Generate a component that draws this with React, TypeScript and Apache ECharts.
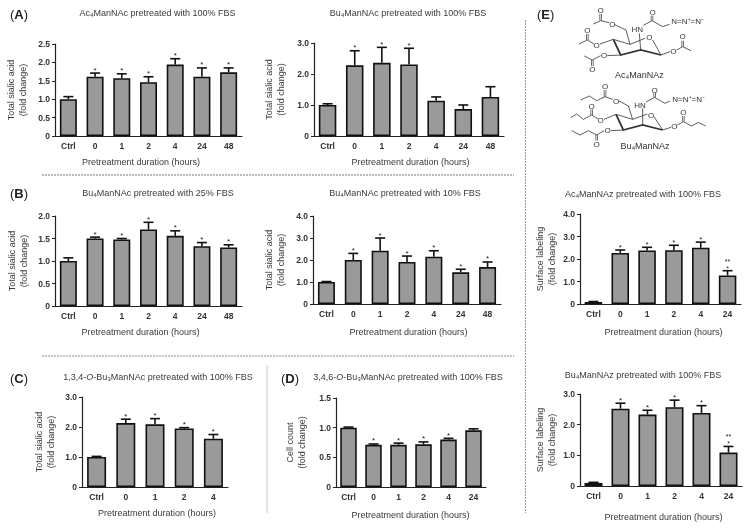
import React, { useEffect, useRef } from "react";
import * as echarts from "echarts";

const FONT = '"Liberation Sans", Arial, sans-serif';
const TEXT = "#3a3a3a";

const catsLong = ["Ctrl", "0", "1", "2", "4", "24", "48"];
const catsFour = ["Ctrl", "0", "1", "2", "4"];
const catsFive = ["Ctrl", "0", "1", "2", "4", "24"];

const valuesA1 = [1.0, 1.61, 1.57, 1.46, 1.94, 1.61, 1.73];
const topsA1 = [1.07, 1.71, 1.69, 1.61, 2.1, 1.85, 1.85];
const starsA1 = ["", "*", "*", "*", "*", "*", "*"];

const valuesA2 = [1.0, 2.28, 2.36, 2.31, 1.14, 0.87, 1.26];
const topsA2 = [1.04, 2.75, 2.86, 2.83, 1.26, 1.0, 1.59];
const starsA2 = ["", "*", "*", "*", "", "", ""];

const valuesB1 = [1.0, 1.5, 1.48, 1.7, 1.56, 1.33, 1.3];
const topsB1 = [1.07, 1.53, 1.5, 1.86, 1.67, 1.41, 1.36];
const starsB1 = ["", "*", "*", "*", "*", "*", "*"];

const valuesB2 = [1.0, 2.0, 2.42, 1.91, 2.15, 1.44, 1.68];
const topsB2 = [1.02, 2.3, 3.0, 2.18, 2.42, 1.58, 1.91];
const starsB2 = ["", "*", "*", "*", "*", "*", "*"];

const valuesC = [1.0, 2.13, 2.09, 1.95, 1.61];
const topsC = [1.02, 2.26, 2.28, 1.98, 1.75];
const starsC = ["", "*", "*", "*", "*"];

const valuesD = [1.0, 0.71, 0.71, 0.72, 0.8, 0.955];
const topsD = [1.01, 0.725, 0.74, 0.76, 0.82, 0.98];
const starsD = ["", "*", "*", "*", "*", ""];

const valuesE1 = [0.09, 2.27, 2.38, 2.39, 2.5, 1.27];
const topsE1 = [0.11, 2.4, 2.52, 2.61, 2.75, 1.48];
const starsE1 = ["", "*", "*", "*", "*", "**\n*"];

const valuesE2 = [0.1, 2.52, 2.33, 2.57, 2.38, 1.09];
const topsE2 = [0.12, 2.7, 2.47, 2.8, 2.62, 1.29];
const starsE2 = ["", "*", "*", "*", "*", "**\n*"];

const xTitle = "Pretreatment duration (hours)";
const yTotal = "Total sialic acid\n(fold change)";
const yCount = "Cell count\n(fold change)";
const ySurface = "Surface labeling\n(fold change)";

const panels = [
  { title: "Ac₄ManNAc pretreated with 100% FBS", tx: 157.5, ty: 14, cats: catsLong, vals: valuesA1, tops: topsA1, stars: starsA1, y: yTotal, max: 2.5, step: 0.5, l: 55, r: 242, t: 44, b: 136, bw: 17, nx: 141, ny: 162, nameGap: 26 },
  { title: "Bu₄ManNAc pretreated with 100% FBS", tx: 408, ty: 14, cats: catsLong, vals: valuesA2, tops: topsA2, stars: starsA2, y: yTotal, max: 3, step: 1, l: 314, r: 504, t: 43, b: 136, bw: 17.5, nx: 410.5, ny: 162, nameGap: 27 },
  { title: "Bu₄ManNAc pretreated with 25% FBS", tx: 158, ty: 194, cats: catsLong, vals: valuesB1, tops: topsB1, stars: starsB1, y: yTotal, max: 2, step: 0.5, l: 55, r: 242, t: 216, b: 306, bw: 17, nx: 140.5, ny: 332, nameGap: 25 },
  { title: "Bu₄ManNAc pretreated with 10% FBS", tx: 405, ty: 194, cats: catsLong, vals: valuesB2, tops: topsB2, stars: starsB2, y: yTotal, max: 4, step: 1, l: 313, r: 501, t: 216, b: 304, bw: 17, nx: 408.5, ny: 332, nameGap: 26 },
  { title: "1,3,4-{i|O}-Bu₃ManNAc pretreated with 100% FBS", tx: 158, ty: 378, cats: catsFour, vals: valuesC, tops: topsC, stars: starsC, y: yTotal, max: 3, step: 1, l: 82, r: 228, t: 397, b: 487, bw: 19, nx: 157, ny: 513, nameGap: 25 },
  { title: "3,4,6-{i|O}-Bu₃ManNAc pretreated with 100% FBS", tx: 408, ty: 378, cats: catsFive, vals: valuesD, tops: topsD, stars: starsD, y: yCount, max: 1.5, step: 0.5, l: 336, r: 486, t: 398, b: 487, bw: 16.5, nx: 410.5, ny: 515, nameGap: 28 },
  { title: "Ac₄ManNAz pretreated with 100% FBS", tx: 643, ty: 195, cats: catsFive, vals: valuesE1, tops: topsE1, stars: starsE1, y: ySurface, max: 4, step: 1, l: 580, r: 741, t: 214, b: 304, bw: 17.5, nx: 663.5, ny: 332, nameGap: 22 },
  { title: "Bu₄ManNAz pretreated with 100% FBS", tx: 643, ty: 376, cats: catsFive, vals: valuesE2, tops: topsE2, stars: starsE2, y: ySurface, max: 3, step: 1, l: 580, r: 742, t: 394, b: 486, bw: 18, nx: 663.5, ny: 517, nameGap: 22 },
];

const panelLetters = [
  { t: "A", x: 10, y: 14 },
  { t: "B", x: 10, y: 193 },
  { t: "C", x: 10, y: 378 },
  { t: "D", x: 281, y: 378 },
  { t: "E", x: 537, y: 14 },
];

// Chemical drawings, in coordinates of the 530,0 corner at 3x
const bondsAc = [
  [[172, 120], [192, 132]], [[210, 132], [250, 118], [300, 133], [345, 115]], [[368, 120], [393, 165]],
  [[300, 133], [288, 90], [254, 74]], [[238, 68], [212, 62], [190, 72]], [[332, 150], [328, 100]],
  [[340, 76], [366, 62], [398, 80], [418, 73]], [[172, 120], [147, 132]],
  [[232, 167], [272, 165]], [[212, 167], [187, 180], [163, 168]], [[393, 165], [420, 155]], [[440, 150], [458, 140], [483, 152]],
];
const boldAc = [[[250, 118], [272, 165], [332, 150], [393, 165]]];
const dblAc = [[212, 62, 212, 42], [366, 62, 366, 47], [172, 120, 172, 102], [187, 180, 187, 198], [458, 140, 458, 122]];
const atomsAc = [
  ["O", 212, 30], ["O", 247, 72], ["O", 368, 38], ["O", 172, 92], ["O", 200, 135], ["O", 222, 167], ["O", 187, 208],
  ["O", 358, 112], ["O", 430, 153], ["O", 458, 110], ["HN", 322, 87], ["N=N⁺=N⁻", 473, 65], ["Ac₄ManNAz", 328, 224],
];
const bondsBu = [
  [[185, 345], [205, 357]], [[222, 358], [258, 343], [308, 358], [352, 342]], [[372, 350], [398, 390]],
  [[308, 358], [295, 318], [266, 302]], [[248, 298], [225, 290], [200, 302], [178, 288], [152, 300]], [[338, 375], [338, 325]],
  [[348, 306], [374, 292], [405, 310], [420, 303]], [[185, 345], [160, 358], [140, 342], [122, 353]],
  [[243, 392], [280, 390]], [[222, 392], [200, 405], [175, 392], [150, 405], [125, 392]], [[398, 390], [423, 382]],
  [[442, 375], [460, 365], [485, 378], [505, 367], [527, 378]],
];
const boldBu = [[[258, 343], [280, 390], [338, 375], [398, 390]]];
const dblBu = [[225, 290, 225, 270], [374, 292, 374, 278], [185, 345, 185, 328], [200, 405, 200, 422], [460, 365, 460, 348]];
const atomsBu = [
  ["O", 225, 258], ["O", 258, 303], ["O", 374, 270], ["O", 185, 320], ["O", 212, 360], ["O", 233, 392], ["O", 200, 432],
  ["O", 363, 345], ["O", 433, 378], ["O", 460, 338], ["HN", 330, 315], ["N=N⁺=N⁻", 476, 298], ["Bu₄ManNAz", 345, 438],
];

const px = (v: number) => 530 + v / 3;
const py = (v: number) => v / 3;

function chemistry(): any[] {
  const out: any[] = [];
  const line = (pts: number[][], w: number) =>
    out.push({ type: "polyline", silent: true, shape: { points: pts.map((p) => [px(p[0]), py(p[1])]) }, style: { stroke: "#333", lineWidth: w, fill: "none" } });
  [...bondsAc, ...bondsBu].forEach((b) => line(b, 0.8));
  [...boldAc, ...boldBu].forEach((b) => line(b, 1.8));
  [...dblAc, ...dblBu].forEach(([a, b, c, d]) => {
    line([[a - 2.5, b], [c - 2.5, d]], 0.7);
    line([[a + 2.5, b], [c + 2.5, d]], 0.7);
  });
  [...atomsAc, ...atomsBu].forEach(([t, x, y]: any) => {
    const big = t.length > 6 && t.indexOf("Man") >= 0;
    out.push({
      type: "text", silent: true,
      style: { text: t, x: px(x), y: py(y), align: "center", verticalAlign: "middle", textAlign: "center", textVerticalAlign: "middle", fill: "#333", font: `${big ? 9 : 8}px ${FONT}` },
    });
  });
  return out;
}

const dashed = [
  [42, 175, 514, 175, "#777", [2, 1]],
  [42, 356, 514, 356, "#888", [2, 1]],
  [525.5, 20, 525.5, 513, "#999", [2, 1]],
  [267, 365, 267, 513, "#ccc", []],
];

function buildOption() {
  const grid: any[] = [], xAxis: any[] = [], yAxis: any[] = [], series: any[] = [], title: any[] = [];
  panels.forEach((p, i) => {
    grid.push({ left: p.l, top: p.t, width: p.r - p.l, height: p.b - p.t });
    title.push({
      text: p.title, left: p.tx, top: p.ty - 5.5, textAlign: "center", padding: 0,
      textStyle: { fontFamily: FONT, fontSize: 9, fontWeight: "normal", color: TEXT, rich: { i: { fontFamily: FONT, fontSize: 9, fontStyle: "italic", color: TEXT } } },
    });
    xAxis.push({
      type: "category", gridIndex: i, data: p.cats,
      axisLine: { lineStyle: { color: "#222", width: 1.2 } },
      axisTick: { alignWithLabel: true, length: 3, lineStyle: { color: "#222", width: 1 } },
      axisLabel: { fontFamily: FONT, fontSize: 8.5, fontWeight: "bold", color: "#333", margin: 5, interval: 0 },
      splitLine: { show: false },
    });
    yAxis.push({
      type: "value", gridIndex: i, min: 0, max: p.max, interval: p.step,
      name: p.y, nameLocation: "middle", nameGap: p.nameGap, nameRotate: 90,
      nameTextStyle: { fontFamily: FONT, fontSize: 9, color: TEXT, lineHeight: 12 },
      axisLine: { show: true, lineStyle: { color: "#222", width: 1.2 } },
      axisTick: { show: true, length: 3, lineStyle: { color: "#222", width: 1 } },
      axisLabel: { fontFamily: FONT, fontSize: 8.5, fontWeight: "bold", color: "#333", margin: 5, formatter: (v: number) => (v === 0 ? "0" : v.toFixed(1)) },
      splitLine: { show: false },
    });
    series.push({
      type: "bar", xAxisIndex: i, yAxisIndex: i, data: p.vals, barWidth: p.bw, silent: true,
      itemStyle: { color: "#9a9a9a", borderColor: "#111", borderWidth: 1.6 },
    });
    series.push({
      type: "custom", xAxisIndex: i, yAxisIndex: i, silent: true, clip: false, z: 3,
      data: p.tops.map((t, k) => [k, p.vals[k], t]),
      encode: { x: 0, y: 2 },
      renderItem: (params: any, api: any) => {
        const a = api.coord([api.value(0), api.value(1)]);
        const b = api.coord([api.value(0), api.value(2)]);
        const star = p.stars[params.dataIndex];
        const ln = { stroke: "#111", lineWidth: 1.6, fill: "none" };
        const kids: any[] = [
          { type: "line", shape: { x1: a[0], y1: a[1], x2: b[0], y2: b[1] }, style: ln },
          { type: "line", shape: { x1: b[0] - 5, y1: b[1], x2: b[0] + 5, y2: b[1] }, style: ln },
        ];
        if (star) {
          const two = star.length > 1;
          kids.push({
            type: "text",
            style: { text: star, x: b[0], y: b[1] + 1, align: "center", verticalAlign: "bottom", textAlign: "center", textVerticalAlign: "bottom", fill: "#222", font: `${two ? 7 : 8}px ${FONT}`, lineHeight: two ? 7 : 8 },
          });
        }
        return { type: "group", children: kids };
      },
    });
  });

  const graphic: any[] = [
    ...dashed.map(([x1, y1, x2, y2, c, d]: any) => ({
      type: "line", silent: true, shape: { x1, y1, x2, y2 }, style: { stroke: c, lineWidth: 1, lineDash: d },
    })),
    ...panels.map((p) => ({
      type: "text", silent: true,
      style: { text: xTitle, x: p.nx, y: p.ny, align: "center", verticalAlign: "middle", textAlign: "center", textVerticalAlign: "middle", fill: TEXT, font: `9px ${FONT}` },
    })),
    ...panelLetters.map((l) => ({
      type: "text", silent: true,
      style: {
        text: `({b|${l.t}})`, x: l.x, y: l.y, verticalAlign: "middle", textVerticalAlign: "middle",
        fill: "#222", font: `13px ${FONT}`,
        rich: { b: { fontFamily: FONT, fontSize: 13, fontWeight: "bold", fill: "#222", color: "#222" } },
      },
    })),
    ...chemistry(),
  ];

  return { animation: false, backgroundColor: "#fff", grid, xAxis, yAxis, series, title, graphic };
}

export default function App() {
  const ref = useRef<HTMLDivElement>(null);
  useEffect(() => {
    const chart = echarts.init(ref.current!, undefined, { renderer: "svg" });
    chart.setOption(buildOption() as any);
    return () => chart.dispose();
  }, []);
  return <div ref={ref} style={{ position: "absolute", left: 0, top: 0, width: 750, height: 530, willChange: "transform" }} />;
}
